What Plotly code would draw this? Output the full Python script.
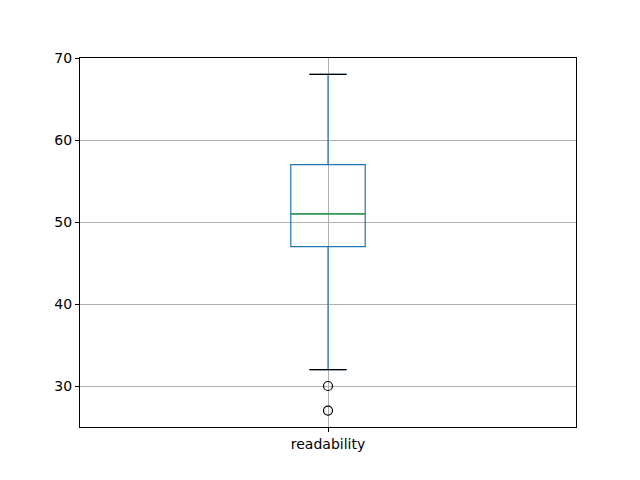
import plotly.graph_objects as go

category = "readability"
q1 = [47]
median = [51]
q3 = [57]
lower_whisker = [32]
upper_whisker = [68]
outliers = [30, 27]

xpos = 1
box_half = 0.075
cap_half = 0.0375

fig = go.Figure()

fig.add_trace(go.Box(
    x=[xpos], q1=q1, median=median, q3=q3,
    lowerfence=lower_whisker, upperfence=upper_whisker,
    width=2 * box_half, whiskerwidth=0.5,
    line=dict(color="#1f77b4", width=1.2),
    fillcolor="rgba(0,0,0,0)", boxpoints=False, showlegend=False,
    hoverinfo="skip",
))

# median line (green)
fig.add_trace(go.Scatter(
    x=[xpos - box_half, xpos + box_half], y=[median[0], median[0]],
    mode="lines", line=dict(color="#2ca02c", width=1.2), showlegend=False,
))

# caps (black)
for v in (lower_whisker[0], upper_whisker[0]):
    fig.add_trace(go.Scatter(
        x=[xpos - cap_half, xpos + cap_half], y=[v, v],
        mode="lines", line=dict(color="black", width=1.3), showlegend=False,
    ))

fig.add_trace(go.Scatter(
    x=[xpos] * len(outliers), y=outliers, mode="markers",
    marker=dict(symbol="circle-open", color="black", size=9, line=dict(width=1.2)),
    showlegend=False,
))

fig.update_layout(
    width=640, height=480,
    margin=dict(l=72, r=72, t=50, b=61),
    paper_bgcolor="white", plot_bgcolor="white",
    font=dict(family="DejaVu Sans", size=14, color="black"),
)
fig.update_xaxes(
    range=[0.5, 1.5], tickvals=[xpos], ticktext=[category],
    showgrid=True, gridcolor="#b0b0b0", gridwidth=0.8,
    showline=True, linecolor="black", linewidth=1, mirror=True,
    ticks="outside", ticklen=4, tickcolor="black", zeroline=False,
)
fig.update_yaxes(
    range=[25, 70], tickvals=[30, 40, 50, 60, 70],
    showgrid=True, gridcolor="#b0b0b0", gridwidth=0.8,
    showline=True, linecolor="black", linewidth=1, mirror=True,
    ticks="outside", ticklen=4, tickcolor="black", zeroline=False,
)

fig.write_html("out.html")
